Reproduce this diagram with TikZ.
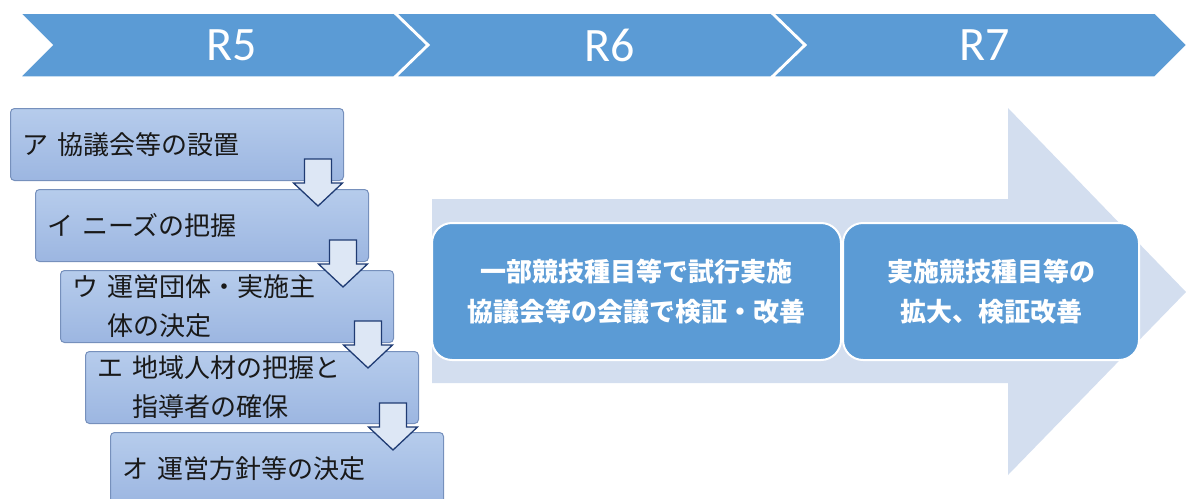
\documentclass[tikz,border=0pt]{standalone}
\usepackage{fontspec}
\newfontfamily\jp{Noto Sans CJK JP}
\newfontfamily\lat{Carlito}
\definecolor{chev}{HTML}{5B9BD5}
\definecolor{bigarrow}{HTML}{D3DEEF}
\definecolor{lbtop}{HTML}{B6CCEC}
\definecolor{lbbot}{HTML}{9CB6E1}
\definecolor{lbedge}{HTML}{7690BC}
\definecolor{darrowline}{HTML}{1F3B73}
\definecolor{darrowfill}{HTML}{DDE7F5}
\tikzset{
  chevron/.style={fill=chev, draw=white, line width=1.5pt, line join=miter},
  yearlabel/.style={text=white, font=\lat\fontsize{48}{50}\selectfont},
  lbox/.style={draw=lbedge, line width=1pt, rounded corners=4pt, top color=lbtop, bottom color=lbbot,
    minimum width=333pt, minimum height=72pt, anchor=north west, inner xsep=12pt,
    text width=309pt, align=left, text=black!90, font=\jp\fontsize{26}{39}\selectfont},
  darrow/.style={draw=darrowline, fill=darrowfill, line width=1.3pt, line join=miter},
  ibox/.style={fill=chev, draw=white, line width=2pt, rounded corners=20pt, minimum height=137pt,
    text=white, align=center, font=\jp\bfseries\fontsize{26}{40}\selectfont}
}
\begin{document}
\begin{tikzpicture}[x=1pt,y=-1pt]
\useasboundingbox (0,0) rectangle (1186,498);
% top chevrons
\draw[chevron] (20,13) -- (394,13) -- (427,45) -- (394,77) -- (20,77) -- (52,45) -- cycle;
\draw[chevron] (396,13) -- (771,13) -- (804,45) -- (771,77) -- (396,77) -- (429,45) -- cycle;
\draw[chevron] (773,13) -- (1155,13) -- (1187,45) -- (1155,77) -- (773,77) -- (806,45) -- cycle;
\node[yearlabel] (r5) at (232,45) {R5};
\node[yearlabel] (r6) at (610,45) {R6};
\node[yearlabel] (r7) at (985,45) {R7};
% big arrow
\fill[bigarrow] (432,199) -- (1008,199) -- (1008,108) -- (1186,292) -- (1008,475) -- (1008,383) -- (432,383) -- cycle;
\node[ibox, minimum width=409pt] (b1) at (636.5,291.5) {一部競技種目等で試行実施\\協議会等の会議で検証・改善};
\node[ibox, minimum width=296pt] (b2) at (991,291.5) {実施競技種目等の\\拡大、検証改善};
% left boxes
\node[lbox] (a) at (10,108) {ア 協議会等の設置};
\node[lbox] (i) at (35,189) {イ ニーズの把握};
\node[lbox] (u) at (60,270) {ウ 運営団体・実施主\\\phantom{ウ }体の決定};
\node[lbox] (e) at (85,351) {エ 地域人材の把握と\\\phantom{エ }指導者の確保};
\node[lbox] (o) at (110,432) {オ 運営方針等の決定};
% down arrows
\coordinate (t1) at (318,159);
\coordinate (t2) at (343,240);
\coordinate (t3) at (368,321);
\coordinate (t4) at (393,403);
\foreach \t in {t1,t2,t3,t4}{
  \draw[darrow] (\t) ++(-13.5,0) -- ++(0,24) -- ++(-11,0) -- ++(24.5,23) -- ++(24.5,-23) -- ++(-11,0) -- ++(0,-24) -- cycle;
}
\end{tikzpicture}
\end{document}
